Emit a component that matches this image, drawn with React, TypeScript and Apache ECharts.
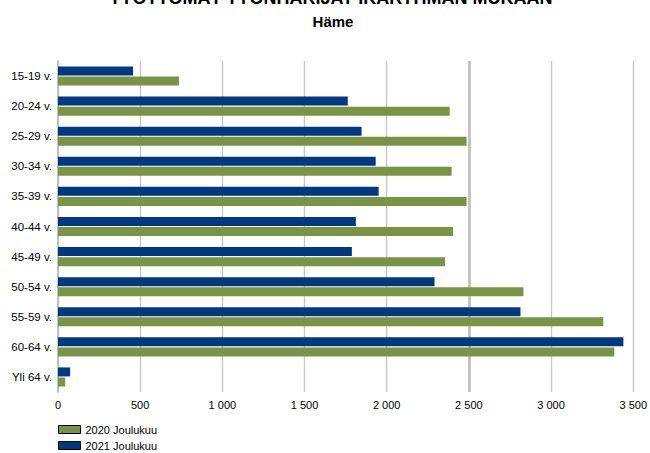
import React, { useEffect, useRef } from "react";
import * as echarts from "echarts";

const categories = ["15-19 v.", "20-24 v.", "25-29 v.", "30-34 v.", "35-39 v.", "40-44 v.", "45-49 v.", "50-54 v.", "55-59 v.", "60-64 v.", "Yli 64 v."];
const values2020 = [736, 2383, 2486, 2395, 2486, 2404, 2355, 2832, 3318, 3385, 44];
const values2021 = [457, 1763, 1847, 1933, 1951, 1812, 1788, 2291, 2814, 3440, 74];
const seriesNames = ["2020 Joulukuu", "2021 Joulukuu"];
const xTicks = { min: 0, max: 3500, interval: 500 };
const mainTitle = "TYÖTTÖMÄT TYÖNHAKIJAT IKÄRYHMÄN MUKAAN";
const subTitle = "Häme";

const FONT = "'Liberation Sans', Arial, sans-serif";

export default function App() {
  const ref = useRef<HTMLDivElement>(null);
  useEffect(() => {
    if (!ref.current) return;
    const chart = echarts.init(ref.current, null, { renderer: "svg" });
    const legendCommon = {
      orient: "vertical",
      left: 58,
      padding: 0,
      itemWidth: 22,
      itemHeight: 8,
      icon: "rect",
      textStyle: { fontSize: 11, color: "#000", fontFamily: FONT },
      itemStyle: { borderColor: "#000", borderWidth: 1 },
    };
    chart.setOption({
      animation: false,
      backgroundColor: "#ffffff",
      textStyle: { fontFamily: FONT },
      graphic: [
        {
          type: "text",
          x: 331,
          y: -2,
          style: { text: mainTitle, fontSize: 18, fontWeight: "bold", fontFamily: FONT, fill: "#000", align: "center", verticalAlign: "middle" },
        },
        {
          type: "text",
          x: 333,
          y: 21,
          style: { text: subTitle, fontSize: 15, fontWeight: "bold", fontFamily: FONT, fill: "#000", align: "center", verticalAlign: "middle" },
        },
      ],
      legend: [
        { ...legendCommon, top: 424, data: [seriesNames[0]] },
        { ...legendCommon, top: 440, data: [seriesNames[1]] },
      ],
      grid: { left: 58, right: 15, top: 61, bottom: 61, containLabel: false },
      xAxis: {
        type: "value",
        min: xTicks.min,
        max: xTicks.max,
        interval: xTicks.interval,
        axisLine: { show: false },
        axisTick: { show: false },
        splitLine: { show: true, lineStyle: { color: "#c8c8c8", width: 1.4 } },
        axisLabel: {
          fontSize: 11,
          color: "#000",
          margin: 7,
          fontFamily: FONT,
          formatter: (v: number) => String(v).replace(/\B(?=(\d{3})+(?!\d))/g, " "),
        },
      },
      yAxis: {
        type: "category",
        data: categories,
        inverse: true,
        axisLine: { show: true, lineStyle: { color: "#c0c0c0", width: 2 } },
        axisTick: { show: false },
        axisLabel: { fontSize: 11.5, color: "#000", margin: 6, fontFamily: FONT },
      },
      series: [
        {
          name: seriesNames[1],
          type: "bar",
          data: values2021,
          barWidth: 9,
          barGap: "12%",
          itemStyle: { color: "#00397f" },
          markLine: {
            silent: true,
            symbol: "none",
            label: { show: false },
            lineStyle: { color: "#bebebe", width: 2.6, type: "solid" },
            data: [{ xAxis: 2500 }],
            z: 1,
          },
        },
        {
          name: seriesNames[0],
          type: "bar",
          data: values2020,
          barWidth: 9,
          barGap: "12%",
          itemStyle: { color: "#7a9445" },
        },
      ],
    });
    return () => chart.dispose();
  }, []);
  return <div ref={ref} style={{ width: 650, height: 453, position: "absolute", left: 0, top: 0 }} />;
}
